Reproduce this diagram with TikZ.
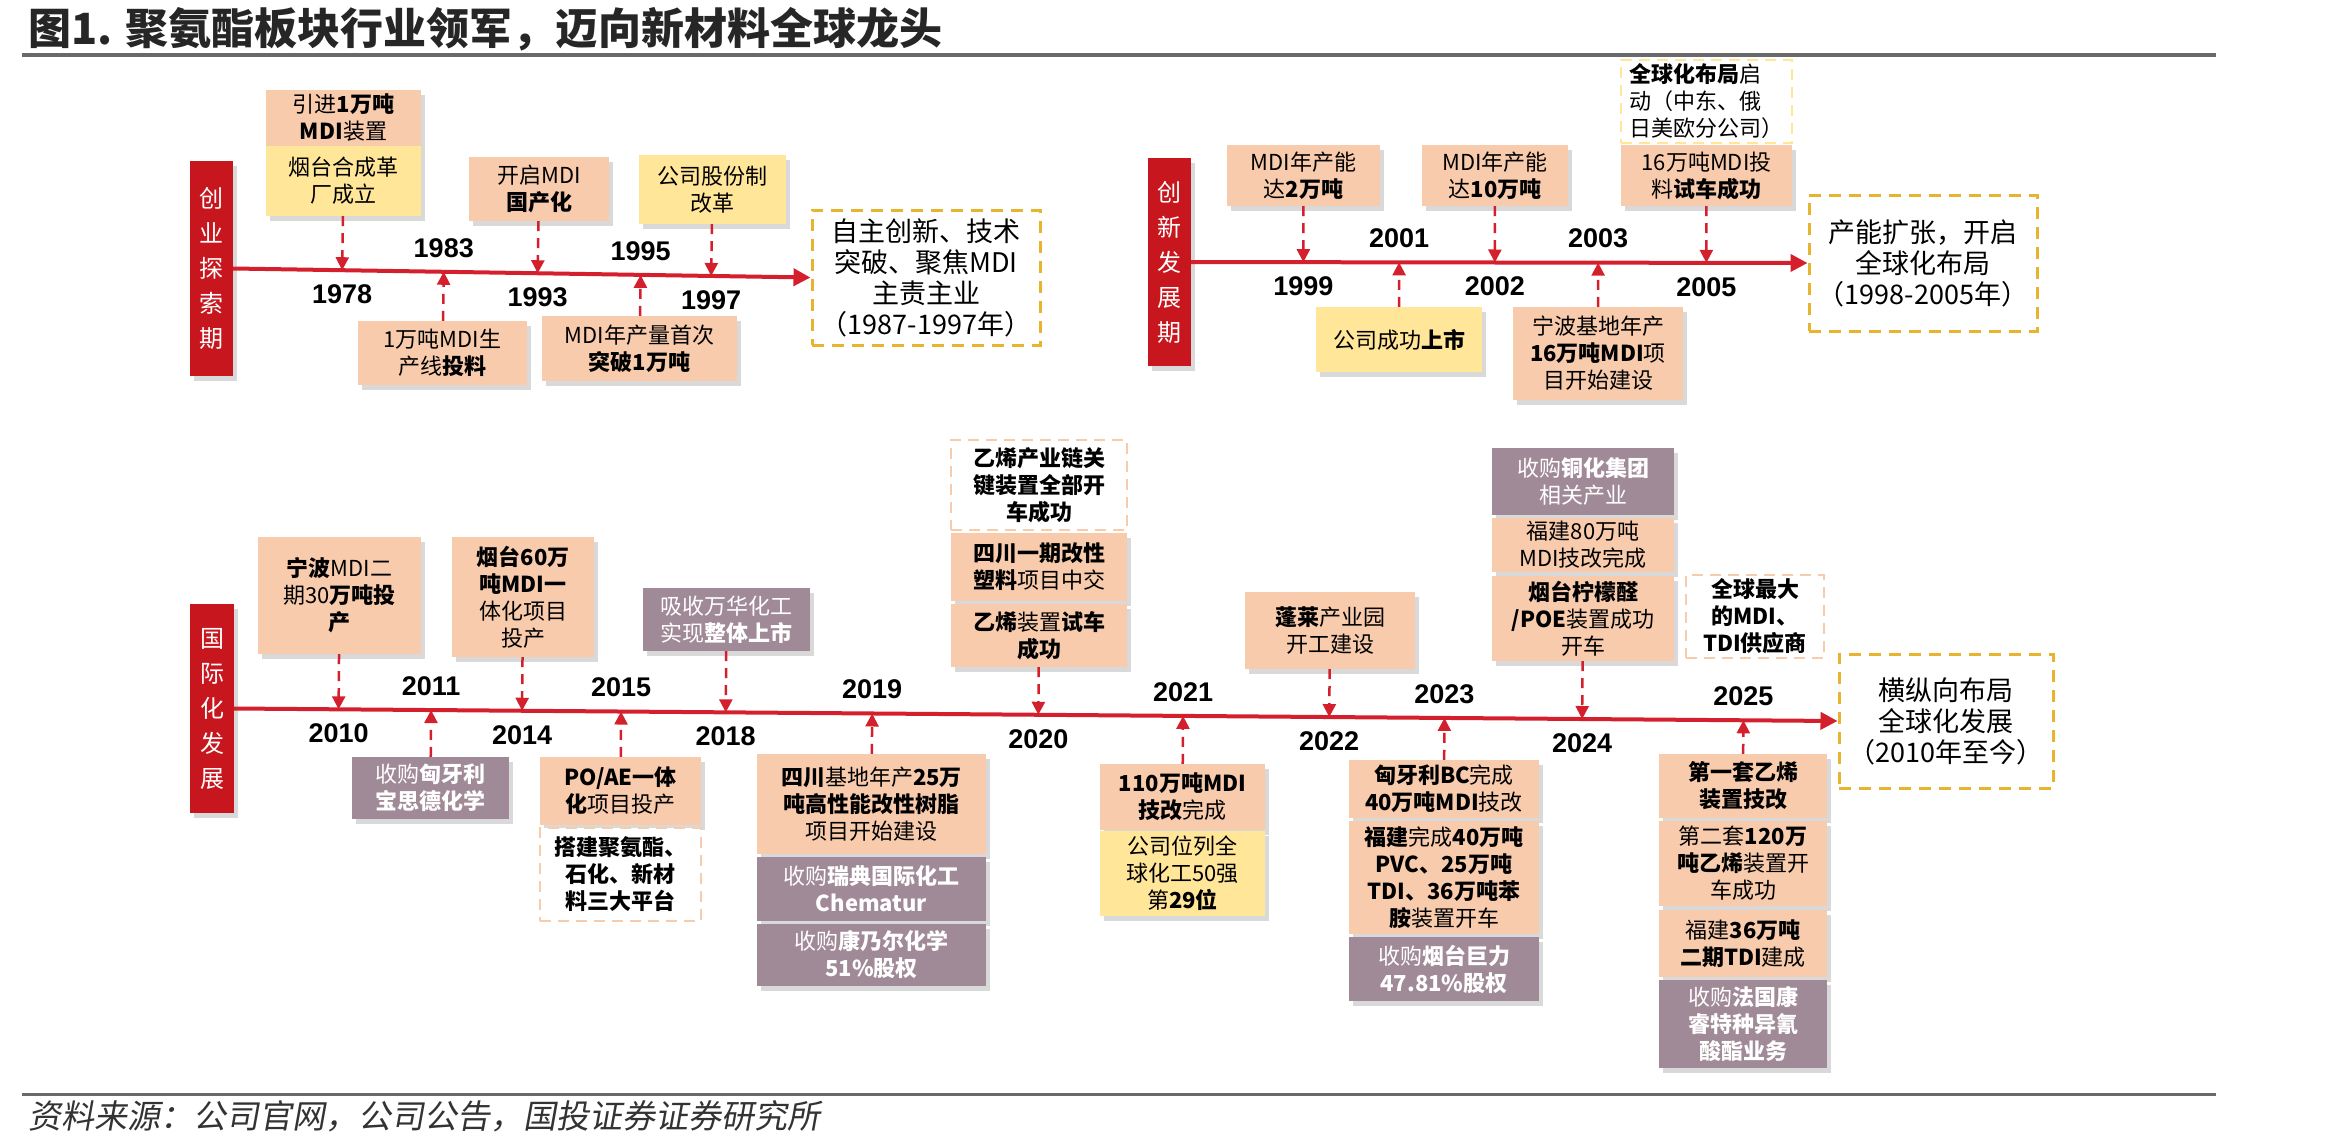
\documentclass[tikz,border=0pt]{standalone}
\usepackage{fontspec}
\setmainfont{Noto Sans CJK SC}
\newfontfamily\yearfont{Liberation Sans}
\newfontfamily\srcfont[FakeSlant=0.18]{Noto Sans CJK SC}
\definecolor{whred}{RGB}{200,22,30}
\definecolor{whline}{RGB}{212,32,44}
\definecolor{whsalmon}{RGB}{248,203,173}
\definecolor{whyellow}{RGB}{255,230,153}
\definecolor{whmauve}{RGB}{161,138,151}
\definecolor{whgold}{RGB}{233,180,45}
\definecolor{whgray}{RGB}{105,105,105}
\usetikzlibrary{calc,positioning,arrows.meta,shadows}

\begin{document}
\begin{tikzpicture}[x=1pt,y=-1pt,
    sz/.style 2 args={minimum width=#1pt,minimum height=#2pt},
    evbox/.style={rectangle,inner sep=0pt,align=center,
                  font=\fontsize{22}{27}\selectfont,
                  drop shadow={opacity=0.3,shadow xshift=4pt,shadow yshift=-5pt}},
    hbox/.style={evbox,fill=whsalmon},
    ybox/.style={evbox,fill=whyellow},
    mbox/.style={evbox,fill=whmauve,text=white},
    dbox/.style={rectangle,inner sep=0pt,align=center,fill=white,
                 draw=#1,line width=2.5pt,dash pattern=on 11pt off 7pt,
                 font=\fontsize{22}{27}\selectfont},
    goldbox/.style={rectangle,inner sep=0pt,align=center,fill=white,
                    draw=whgold,line width=3pt,dash pattern=on 12pt off 8pt,
                    font=\fontsize{27}{31}\selectfont},
    phase/.style={rectangle,inner sep=0pt,align=center,fill=whred,text=white,
                  font=\fontsize{24}{35}\selectfont,
                  drop shadow={opacity=0.3,shadow xshift=4pt,shadow yshift=-5pt}},
    tline/.style={draw=whline,line width=4pt,-{Triangle[length=17pt,width=17pt]}},
    evarrow/.style={draw=whline,line width=2.5pt,dash pattern=on 10pt off 7pt,
                    -{Triangle[length=13pt,width=13pt]}},
    yearlbl/.style={inner sep=0pt,font=\yearfont\bfseries\fontsize{27}{27}\selectfont}]
  \useasboundingbox (0,0) rectangle (2340,1144);

  % title and rules
  \node[anchor=west,inner sep=0pt,text=black!85,
        font=\bfseries\fontsize{43}{43}\selectfont] (title) at (28,29)
       {图1. 聚氨酯板块行业领军，迈向新材料全球龙头};
  \draw[whgray,line width=4pt] (22,55) -- (2216,55);
  \draw[whgray,line width=3pt] (22,1094) -- (2216,1094);
  \node[anchor=west,inner sep=0pt,text=black!80,
        font=\srcfont\fontsize{33}{33}\selectfont] (src) at (28,1116)
       {资料来源：公司官网，公司公告，国投证券证券研究所};

  % phase 1
  \node[phase,sz={43}{215}] (bar1) at (211.5,268.5) {创\\业\\探\\索\\期};
  \node[hbox,sz={155}{56}] (a1) at (343.5,118) {引进\textbf{1万吨}\\\textbf{MDI}装置};
  \node[ybox,sz={155}{70}] (a2) at (343.5,181) {烟台合成革\\厂成立};
  \node[hbox,sz={140}{64}] (a3) at (539,189) {开启MDI\\\textbf{国产化}};
  \node[ybox,sz={147}{69}] (a4) at (712.5,189.5) {公司股份制\\改革};
  \node[hbox,sz={169}{64}] (b1) at (442.5,353) {1万吨MDI生\\产线\textbf{投料}};
  \node[hbox,sz={195}{65}] (b2) at (639.5,348.5) {MDI年产量首次\\\textbf{突破1万吨}};
  \node[goldbox,sz={228}{135}] (g1) at (926,277.5)
       {自主创新、技术\\突破、聚焦MDI\\主责主业\\（1987-1997年）};
  \draw[tline] (bar1.east) -- (g1.west);
  \foreach \b/\yr/\s in {a2/1978/1,b1/1983/-1,a3/1993/1,b2/1995/-1,a4/1997/1}{
    \coordinate (t\yr) at ($(bar1.east)!(\b.center)!(g1.west)$);
    \draw[evarrow] (\b) -- (t\yr);
    \node[yearlbl] (y\yr) at ($(t\yr)+(0,\s*24)$) {\yr};
  }

  % phase 2
  \node[phase,sz={43}{208}] (bar2) at (1169.5,262) {创\\新\\发\\展\\期};
  \node[dbox=whyellow,sz={171}{83},align=left] (c4) at (1706.5,101.5)
       {\textbf{全球化布局}启\\动（中东、俄\\日美欧分公司）};
  \node[hbox,sz={153}{61}] (c1) at (1303.5,175.5) {MDI年产能\\达\textbf{2万吨}};
  \node[hbox,sz={146}{61}] (c2) at (1495,175.5) {MDI年产能\\达\textbf{10万吨}};
  \node[hbox,sz={171}{61}] (c3) at (1706.5,175.5) {16万吨MDI投\\料\textbf{试车成功}};
  \node[ybox,sz={166}{65}] (d1) at (1399,339.5) {公司成功\textbf{上市}};
  \node[hbox,sz={170}{93}] (d2) at (1598,353.5)
       {宁波基地年产\\\textbf{16万吨MDI}项\\目开始建设};
  \node[goldbox,sz={228}{136}] (g2) at (1923,263)
       {产能扩张，开启\\全球化布局\\（1998-2005年）};
  \draw[tline] (bar2.east) -- (g2.west);
  \foreach \b/\yr/\s in {c1/1999/1,d1/2001/-1,c2/2002/1,d2/2003/-1,c3/2005/1}{
    \coordinate (t\yr) at ($(bar2.east)!(\b.center)!(g2.west)$);
    \draw[evarrow] (\b) -- (t\yr);
    \node[yearlbl] (y\yr) at ($(t\yr)+(0,\s*24)$) {\yr};
  }

  % phase 3
  \node[phase,sz={44}{209}] (bar3) at (212,708.5) {国\\际\\化\\发\\展};
  \node[hbox,sz={163}{117}] (e1) at (339.5,595.5)
       {\textbf{宁波}MDI二\\期30\textbf{万吨投}\\\textbf{产}};
  \node[hbox,sz={142}{120}] (e2) at (523,597)
       {\textbf{烟台60万}\\\textbf{吨MDI一}\\体化项目\\投产};
  \node[mbox,sz={167}{63}] (e3) at (726.5,619.5) {吸收万华化工\\实现\textbf{整体上市}};
  \node[dbox=whsalmon,sz={176}{90}] (e4a) at (1039,485)
       {\textbf{乙烯产业链关}\\\textbf{键装置全部开}\\\textbf{车成功}};
  \node[hbox,sz={176}{68}] (e4b) at (1039,567) {\textbf{四川一期改性}\\\textbf{塑料}项目中交};
  \node[hbox,sz={176}{63}] (e4c) at (1039,635.5) {\textbf{乙烯}装置\textbf{试车}\\\textbf{成功}};
  \node[hbox,sz={170}{77}] (e5) at (1330,630.5) {\textbf{蓬莱}产业园\\开工建设};
  \node[mbox,sz={182}{67}] (e6a) at (1583,481.5) {收购\textbf{铜化集团}\\相关产业};
  \node[hbox,sz={182}{54}] (e6b) at (1583,545) {福建80万吨\\MDI技改完成};
  \node[hbox,sz={182}{85}] (e6c) at (1583,618.5)
       {\textbf{烟台柠檬醛}\\\textbf{/POE}装置成功\\开车};
  \node[dbox=whsalmon,sz={138}{83}] (e7) at (1755,616.5)
       {\textbf{全球最大}\\\textbf{的MDI、}\\\textbf{TDI供应商}};
  \node[mbox,sz={157}{62}] (f1) at (430.5,788) {收购\textbf{匈牙利}\\\textbf{宝思德化学}};
  \node[hbox,sz={161}{68}] (f2a) at (620.5,791) {\textbf{PO/AE一体}\\\textbf{化}项目投产};
  \node[dbox=whsalmon,sz={161}{93}] (f2b) at (620.5,874.5)
       {\textbf{搭建聚氨酯、}\\\textbf{石化、新材}\\\textbf{料三大平台}};
  \node[hbox,sz={229}{100}] (f3a) at (871.5,804)
       {\textbf{四川}基地年产\textbf{25万}\\\textbf{吨高性能改性树脂}\\项目开始建设};
  \node[mbox,sz={229}{64}] (f3b) at (871.5,889) {收购\textbf{瑞典国际化工}\\\textbf{Chematur}};
  \node[mbox,sz={229}{62}] (f3c) at (871.5,955) {收购\textbf{康乃尔化学}\\\textbf{51\%股权}};
  \node[hbox,sz={165}{66}] (f4a) at (1182.5,797) {\textbf{110万吨MDI}\\\textbf{技改}完成};
  \node[ybox,sz={165}{85}] (f4b) at (1182.5,873.5) {公司位列全\\球化工50强\\第\textbf{29位}};
  \node[hbox,sz={190}{58}] (f5a) at (1444,789) {\textbf{匈牙利BC}完成\\\textbf{40万吨MDI}技改};
  \node[hbox,sz={190}{113}] (f5b) at (1444,877.5)
       {\textbf{福建}完成\textbf{40万吨}\\\textbf{PVC、25万吨}\\\textbf{TDI、36万吨苯}\\\textbf{胺}装置开车};
  \node[mbox,sz={190}{64}] (f5c) at (1444,969) {收购\textbf{烟台巨力}\\\textbf{47.81\%股权}};
  \node[hbox,sz={168}{64}] (f6a) at (1743,786) {\textbf{第一套乙烯}\\\textbf{装置技改}};
  \node[hbox,sz={168}{85}] (f6b) at (1743,863.5)
       {第二套\textbf{120万}\\\textbf{吨乙烯}装置开\\车成功};
  \node[hbox,sz={168}{67}] (f6c) at (1743,943.5) {福建\textbf{36万吨}\\\textbf{二期TDI}建成};
  \node[mbox,sz={168}{88}] (f6d) at (1743,1024)
       {收购\textbf{法国康}\\\textbf{睿特种异氰}\\\textbf{酸酯业务}};
  \node[goldbox,sz={214}{134}] (g3) at (1946,721)
       {横纵向布局\\全球化发展\\（2010年至今）};
  \draw[tline] (bar3.east) -- (g3.west);
  \foreach \b/\yr/\s in {e1/2010/1,f1/2011/-1,e2/2014/1,f2a/2015/-1,e3/2018/1,
                         f3a/2019/-1,e4c/2020/1,f4a/2021/-1,e5/2022/1,f5a/2023/-1,
                         e6c/2024/1,f6a/2025/-1}{
    \coordinate (t\yr) at ($(bar3.east)!(\b.center)!(g3.west)$);
    \draw[evarrow] (\b) -- (t\yr);
    \node[yearlbl] (y\yr) at ($(t\yr)+(0,\s*24)$) {\yr};
  }
\end{tikzpicture}
\end{document}
